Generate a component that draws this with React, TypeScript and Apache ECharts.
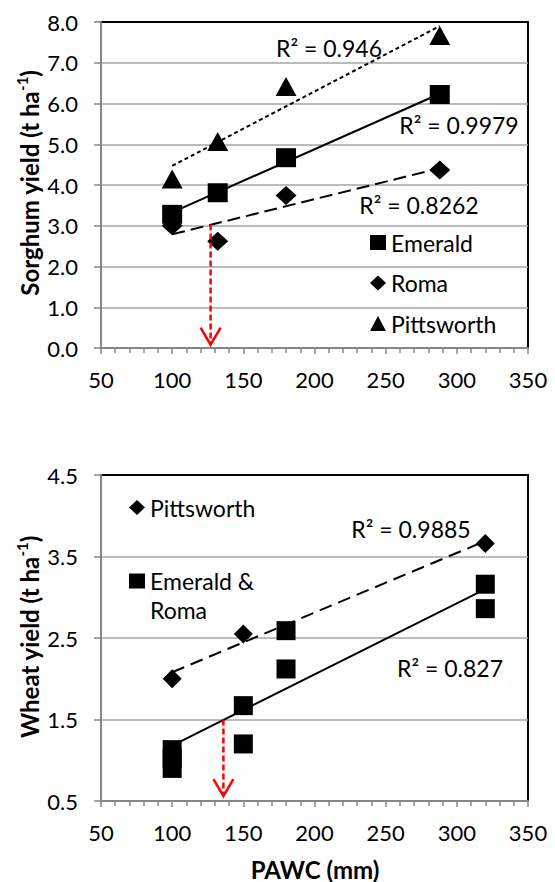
import React, { useEffect, useRef } from "react";
import * as echarts from "echarts";

// ---------- data ----------
const xTicks = [50, 100, 150, 200, 250, 300, 350];

// Sorghum (top chart)
const sorghumPAWC = [100, 132, 180, 288];
const sorghumEmerald = [3.28, 3.81, 4.67, 6.22];
const sorghumRoma = [3.0, 2.62, 3.74, 4.37];
const sorghumPittsworth = [4.15, 5.07, 6.42, 7.67];
const sorghumTrendX = [100, 288];
const sorghumPittsTrend = [4.47, 7.9];
const sorghumEmeraldTrend = [3.33, 6.24];
const sorghumRomaTrend = [2.79, 4.41];
const sorghumArrow = [127, 3.03, 0.08]; // x, from, to
const sorghumR2 = ["R² = 0.946", "R² = 0.9979", "R² = 0.8262"];

// Wheat (bottom chart)
const wheatPittsPAWC = [100, 150, 320];
const wheatPitts = [2.0, 2.55, 3.66];
const wheatERPAWC = [100, 100, 100, 150, 150, 180, 180, 320, 320];
const wheatER = [1.13, 1.02, 0.9, 1.67, 1.2, 2.59, 2.12, 3.16, 2.86];
const wheatTrendX = [100, 320];
const wheatPittsTrend = [2.08, 3.69];
const wheatERTrend = [1.18, 3.1];
const wheatArrow = [136, 1.5, 0.56];
const wheatR2 = ["R² = 0.9885", "R² = 0.827"];

const zip = (xs: number[], ys: number[]) => xs.map((x, i) => [x, ys[i]]);

const FONT = "Lato";
const GRAY = "#868686";
const GRID_GRAY = "#A6A6A6";
const TICK_FS = 22;
const TEXT_FS = 23;

function xAxisCfg(gridIndex: number) {
  return {
    type: "value",
    gridIndex,
    min: xTicks[0],
    max: xTicks[xTicks.length - 1],
    interval: 50,
    axisLine: { show: true, onZero: false, lineStyle: { color: GRAY, width: 2 } },
    axisTick: { show: true, inside: false, length: 6, lineStyle: { color: GRAY, width: 1.5 } },
    minorTick: { show: true, splitNumber: 5, length: 5, lineStyle: { color: GRAY, width: 1.5 } },
    axisLabel: { margin: 20, fontSize: TICK_FS, fontFamily: FONT, color: "#000" },
    splitLine: { show: false },
    minorSplitLine: { show: false },
  };
}

function yAxisCfg(gridIndex: number, min: number, max: number) {
  return {
    type: "value",
    gridIndex,
    min,
    max,
    interval: 1,
    axisLine: { show: true, onZero: false, lineStyle: { color: GRAY, width: 2 } },
    axisTick: { show: true, inside: false, length: 7, lineStyle: { color: GRAY, width: 1.5 } },
    axisLabel: {
      margin: 23,
      fontSize: TICK_FS,
      fontFamily: FONT,
      color: "#000",
      formatter: (v: number) => v.toFixed(1),
    },
    splitLine: {
      show: true,
      showMinLine: false,
      showMaxLine: false,
      lineStyle: { color: GRID_GRAY, width: 1.5 },
    },
  };
}

function trend(name: string, xi: number, xs: number[], ys: number[], dash: any) {
  return {
    type: "line",
    name,
    xAxisIndex: xi,
    yAxisIndex: xi,
    data: zip(xs, ys),
    symbol: "none",
    silent: true,
    z: 2,
    lineStyle: { color: "#000", width: 2, type: dash },
  };
}

function arrow(name: string, xi: number, a: number[]) {
  return {
    type: "custom",
    name,
    xAxisIndex: xi,
    yAxisIndex: xi,
    silent: true,
    z: 4,
    data: [a],
    encode: { x: 0, y: [1, 2] },
    renderItem: (_p: any, api: any) => {
      const top = api.coord([api.value(0), api.value(1)]);
      const bot = api.coord([api.value(0), api.value(2)]);
      return {
        type: "group",
        children: [
          {
            type: "line",
            shape: { x1: top[0], y1: top[1], x2: bot[0], y2: bot[1] },
            style: { stroke: "#FF0000", lineWidth: 2.5, lineDash: [6, 3] },
          },
          {
            type: "polyline",
            shape: {
              points: [
                [bot[0] - 10, bot[1] - 17],
                [bot[0], bot[1]],
                [bot[0] + 10, bot[1] - 17],
              ],
            },
            style: { stroke: "#FF0000", lineWidth: 2.5, fill: "none" },
          },
        ],
      };
    },
  };
}

function scatter(name: string, xi: number, xs: number[], ys: number[], symbol: string, size: number[]) {
  return {
    type: "scatter",
    name,
    xAxisIndex: xi,
    yAxisIndex: xi,
    data: zip(xs, ys),
    symbol,
    symbolSize: size,
    itemStyle: { color: "#000", opacity: 1 },
    z: 3,
  };
}

const r2Style = (text: string) => ({
  text,
  fontSize: TEXT_FS,
  fontFamily: FONT,
  fill: "#000",
  align: "center",
  verticalAlign: "middle",
});

const titleRich = {
  b: { fontSize: 24, fontWeight: "bold", fontFamily: FONT, color: "#000", lineHeight: 30 },
  s: { fontSize: 15, fontWeight: "bold", fontFamily: FONT, color: "#000", lineHeight: 30, verticalAlign: "top" },
};

export default function App() {
  const ref = useRef<HTMLDivElement>(null);

  useEffect(() => {
    if (!ref.current) return;
    const chart = echarts.init(ref.current, undefined, { renderer: "svg" });
    const option: any = {
      animation: false,
      backgroundColor: "#fff",
      textStyle: { fontFamily: FONT },
      grid: [
        {
          left: 101, top: 22, width: 427, height: 326,
          show: true, borderColor: "#000", borderWidth: 2, backgroundColor: "transparent",
          outerBoundsMode: "none", containLabel: false,
        },
        {
          left: 101, top: 475, width: 427, height: 326,
          show: true, borderColor: "#000", borderWidth: 2, backgroundColor: "transparent",
          outerBoundsMode: "none", containLabel: false,
        },
      ],
      xAxis: [xAxisCfg(0), xAxisCfg(1)],
      yAxis: [yAxisCfg(0, 0, 8), yAxisCfg(1, 0.5, 4.5)],
      legend: [
        {
          orient: "vertical",
          left: 370,
          top: 228.5,
          padding: 0,
          itemWidth: 16,
          itemHeight: 15,
          itemGap: 12.5,
          selectedMode: false,
          textStyle: { fontSize: TEXT_FS, fontFamily: FONT, color: "#000", lineHeight: 28 },
          data: [
            { name: "Emerald", icon: "rect" },
            { name: "Roma", icon: "diamond" },
            { name: "Pittsworth", icon: "triangle" },
          ],
        },
        {
          orient: "vertical",
          left: 129,
          top: 493,
          padding: 0,
          itemWidth: 16,
          itemHeight: 15,
          itemGap: 15.5,
          selectedMode: false,
          textStyle: { fontSize: TEXT_FS, fontFamily: FONT, color: "#000", lineHeight: 29 },
          formatter: (name: string) => (name === "Emerald & Roma" ? "\nEmerald &\nRoma" : name),
          data: [
            { name: "Pittsworth", icon: "diamond" },
            { name: "Emerald & Roma", icon: "rect" },
          ],
        },
      ],
      graphic: [
        { type: "text", x: 329, y: 48, style: r2Style(sorghumR2[0]) },
        { type: "text", x: 459, y: 125, style: r2Style(sorghumR2[1]) },
        { type: "text", x: 419, y: 205, style: r2Style(sorghumR2[2]) },
        { type: "text", x: 411, y: 529, style: r2Style(wheatR2[0]) },
        { type: "text", x: 450, y: 668, style: r2Style(wheatR2[1]) },
        {
          type: "text", x: 29, y: 183, rotation: Math.PI / 2,
          style: { text: "{b|Sorghum yield (t ha}{s|-1}{b|)}", rich: titleRich, align: "center", verticalAlign: "middle" },
        },
        {
          type: "text", x: 29, y: 637, rotation: Math.PI / 2,
          style: { text: "{b|Wheat yield (t ha}{s|-1}{b|)}", rich: titleRich, align: "center", verticalAlign: "middle" },
        },
        {
          type: "text", x: 315, y: 869,
          style: { text: "PAWC (mm)", fontSize: 24, fontWeight: "bold", fontFamily: FONT, fill: "#000", align: "center", verticalAlign: "middle" },
        },
      ],
      series: [
        trend("Pittsworth trend", 0, sorghumTrendX, sorghumPittsTrend, [4, 3]),
        trend("Emerald trend", 0, sorghumTrendX, sorghumEmeraldTrend, "solid"),
        trend("Roma trend", 0, sorghumTrendX, sorghumRomaTrend, [13, 6]),
        arrow("Sorghum arrow", 0, sorghumArrow),
        scatter("Emerald", 0, sorghumPAWC, sorghumEmerald, "rect", [20, 19]),
        scatter("Roma", 0, sorghumPAWC, sorghumRoma, "diamond", [21, 19]),
        scatter("Pittsworth", 0, sorghumPAWC, sorghumPittsworth, "triangle", [21, 19]),

        trend("Wheat Pittsworth trend", 1, wheatTrendX, wheatPittsTrend, [13, 7]),
        trend("Wheat E&R trend", 1, wheatTrendX, wheatERTrend, "solid"),
        arrow("Wheat arrow", 1, wheatArrow),
        scatter("Pittsworth", 1, wheatPittsPAWC, wheatPitts, "diamond", [19, 19]),
        scatter("Emerald & Roma", 1, wheatERPAWC, wheatER, "rect", [19, 19]),
      ],
    };
    chart.setOption(option);
    return () => chart.dispose();
  }, []);

  return (
    <div
      ref={ref}
      style={{ position: "absolute", left: 0, top: 0, width: 555, height: 882, background: "#fff" }}
    />
  );
}
